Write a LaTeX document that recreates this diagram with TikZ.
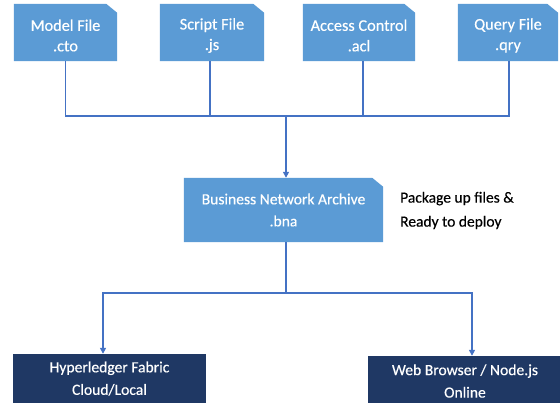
\documentclass[tikz,border=0pt]{standalone}
\usepackage{fontspec}
\setmainfont{Carlito}[FakeBold=0.35]
\usetikzlibrary{arrows.meta,backgrounds}
\definecolor{boxblue}{HTML}{5B9BD5}
\definecolor{navy}{HTML}{1F3864}
\definecolor{linkblue}{HTML}{4472C4}
\newcommand\chamferfill[1]{\fill[boxblue] (#1.south west) -- (#1.south east) -- ([yshift=-9pt]#1.north east) -- ([xshift=-11pt]#1.north east) -- (#1.north west) -- cycle;}
\tikzset{
  filebox/.style={rectangle, draw=none, inner sep=0pt},
  filetext/.style={text=white, align=center, inner sep=0pt, yshift=-3pt,
    font=\fontsize{16.3}{20.5}\selectfont},
  bnatext/.style={text=white, align=center, inner sep=0pt,
    font=\fontsize{15.6}{22}\selectfont},
  targetbox/.style={rectangle, fill=navy, draw=none, text=white, align=center,
    inner sep=0pt, font=\fontsize{15.6}{22.5}\selectfont},
  link/.style={draw=linkblue, line width=1.7pt},
  linkarrow/.style={link, -{Triangle[length=6pt,width=6pt]}},
}
\begin{document}
\begin{tikzpicture}[x=1pt,y=-1pt]
\useasboundingbox (0,0) rectangle (560,403);
\node[filebox, minimum width=103pt, minimum height=57pt, label={[filetext]center:Model File\\.cto}] (m) at (65.5,32.5) {};
\node[filebox, minimum width=104pt, minimum height=57pt, label={[filetext]center:Script File\\.js}] (s) at (212,32.5) {};
\node[filebox, minimum width=112pt, minimum height=57pt, label={[filetext]center:Access Control\\.acl}] (a) at (359,32.5) {};
\node[filebox, minimum width=100pt, minimum height=57pt, label={[filetext]center:Query File\\.qry}] (q) at (508,32.5) {};
\node[filebox, minimum width=199pt, minimum height=64pt, label={[bnatext]center:Business Network Archive\\.bna}] (bna) at (283.5,210) {};
\begin{scope}[on background layer]
\chamferfill{m}
\chamferfill{s}
\chamferfill{a}
\chamferfill{q}
\chamferfill{bna}
\end{scope}
\node[anchor=west, align=left, inner sep=0pt, font=\fontsize{15.5}{24}\selectfont] (note) at (400,210.5) {Package up files \&\\Ready to deploy};
\node[targetbox, minimum width=193pt, minimum height=49pt] (hf) at (109.5,378.5) {Hyperledger Fabric\\Cloud/Local};
\node[targetbox, minimum width=194pt, minimum height=50pt] (wb) at (465,381) {Web Browser / Node.js\\Online};
\coordinate (bus1) at (286,116);
\coordinate (bus2) at (286,293);
\draw[link] (m.south) |- (bus1);
\draw[link] ([xshift=-2pt]s.south) |- (bus1);
\draw[link] ([xshift=4pt]a.south) |- (bus1);
\draw[link] ([xshift=1pt]q.south) |- (bus1);
\draw[linkarrow] (bus1) -- (bus1 |- bna.north);
\draw[link] (bus1 |- bna.south) -- (bus2);
\draw[linkarrow] (bus2) -| ([xshift=-6.5pt]hf.north);
\draw[linkarrow] (bus2) -| ([xshift=7pt]wb.north);
\end{tikzpicture}
\end{document}
